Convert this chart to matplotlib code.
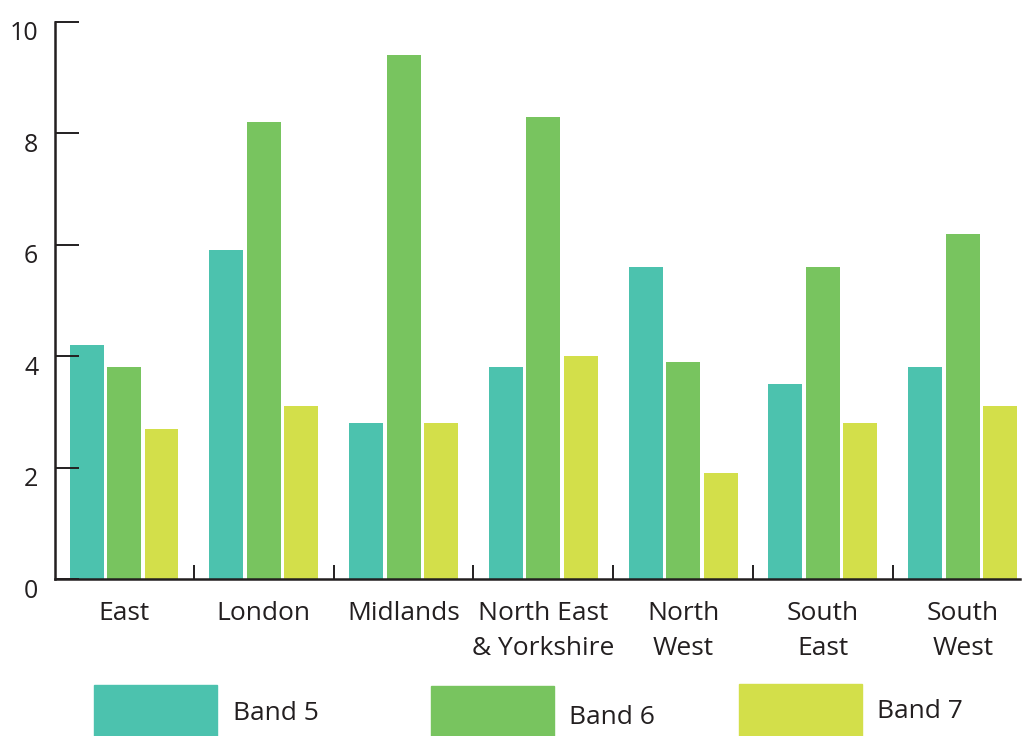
import matplotlib
matplotlib.use("Agg")
import matplotlib.pyplot as plt
import matplotlib.transforms as mtransforms
from matplotlib.patches import Rectangle
import numpy as np

plt.rcParams['font.family'] = ['Open Sans', 'DejaVu Sans']

regions = ["East", "London", "Midlands", "North East\n& Yorkshire",
           "North\nWest", "South\nEast", "South\nWest"]
band5 = [4.2, 5.9, 2.8, 3.8, 5.6, 3.5, 3.8]
band6 = [3.8, 8.2, 9.4, 8.3, 3.9, 5.6, 6.2]
band7 = [2.7, 3.1, 2.8, 4.0, 1.9, 2.8, 3.1]
series_names = ["Band 5", "Band 6", "Band 7"]
colors = ["#4CC2AE", "#78C45F", "#D3DF4A"]
y_ticks = [0, 2, 4, 6, 8, 10]

ink = "#231f20"
W, H = 1024, 736
fig = plt.figure(figsize=(W / 100, H / 100), dpi=100)
ax = fig.add_axes([55 / W, 157 / H, 965 / W, 557 / H])

x = np.arange(len(regions))
bar_w = 0.243
step = 0.268
for k, (vals, col) in enumerate(zip([band5, band6, band7], colors)):
    ax.bar(x + (k - 1) * step, vals, width=bar_w, color=col, zorder=1)

ax.set_xlim(-0.494, 6.41)
ax.set_ylim(0, 10)

for side in ("top", "right"):
    ax.spines[side].set_visible(False)
for side in ("left", "bottom"):
    ax.spines[side].set_color(ink)
    ax.spines[side].set_linewidth(1.8)
    ax.spines[side].set_zorder(3)

ax.set_yticks(y_ticks)
ax.set_yticklabels([str(v) for v in y_ticks])
ax.tick_params(axis="y", direction="in", length=17, width=1.4, color=ink,
               labelsize=18, labelcolor=ink, pad=12)
offset = mtransforms.ScaledTranslation(0, -9 / 100, fig.dpi_scale_trans)
for lab in ax.get_yticklabels():
    lab.set_transform(lab.get_transform() + offset)

ax.set_xticks(x)
ax.set_xticklabels(regions, linespacing=1.5)
ax.set_xticks(np.arange(len(regions) - 1) + 0.5, minor=True)
ax.tick_params(axis="x", which="major", length=0, labelsize=19,
               labelcolor=ink, pad=16)
ax.tick_params(axis="x", which="minor", direction="in", length=10,
               width=1.4, color=ink)

# Legend drawn as large swatches along the bottom of the figure
legend_items = [
    (94, 685, 123),
    (431, 686, 123),
    (739, 684, 123),
]
label_pos = [(233, 714), (569, 718), (877, 712)]
for (px, py, pw), (lx, ly), name, col in zip(legend_items, label_pos,
                                             series_names, colors):
    fig.patches.append(Rectangle((px / W, 0), pw / W, (736 - py) / H,
                                 transform=fig.transFigure, color=col))
    fig.text(lx / W, 1 - ly / H, name, fontsize=19, color=ink,
             ha="left", va="center")

fig.savefig("out.png", dpi=100)
